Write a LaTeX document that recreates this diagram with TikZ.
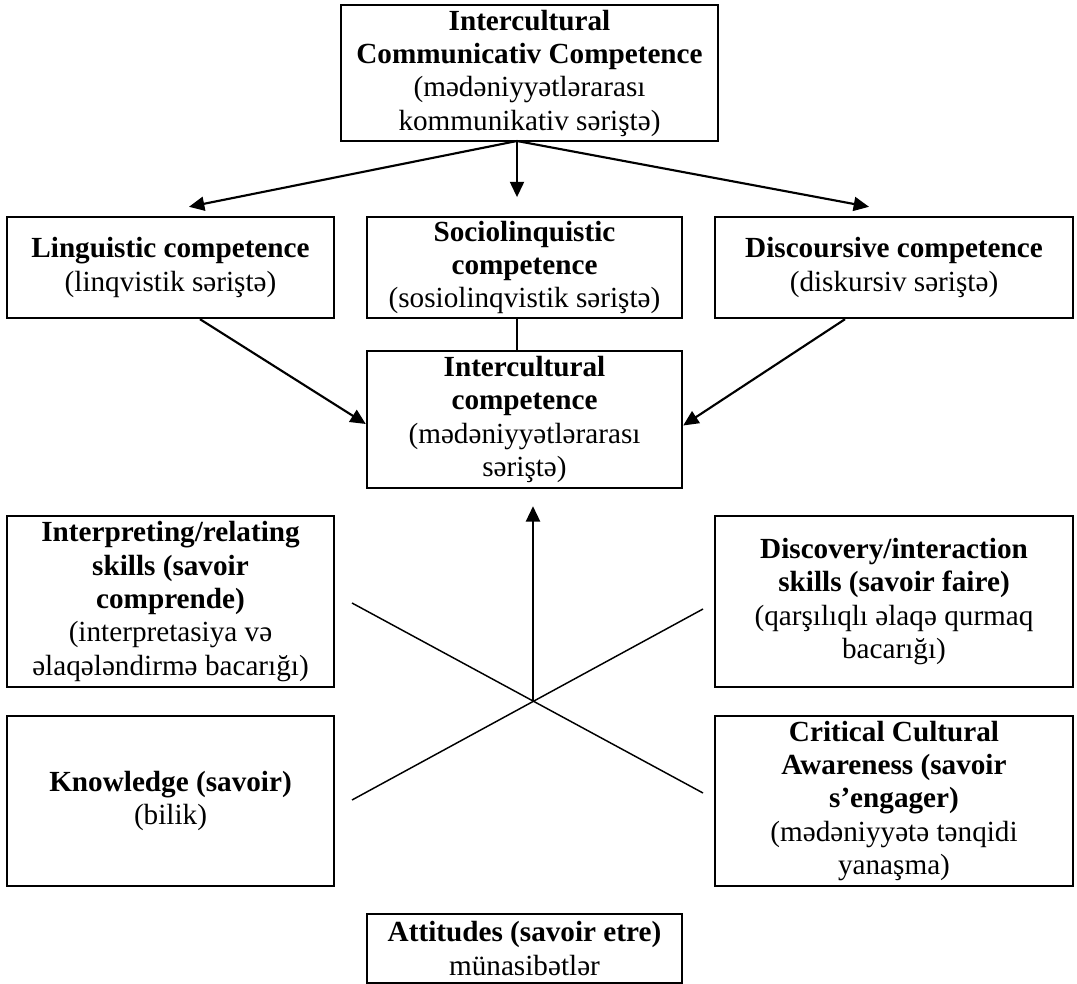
\documentclass[tikz,border=0pt]{standalone}
\usepackage{fontspec}
\setmainfont{Liberation Serif}
\usetikzlibrary{positioning, arrows.meta, calc}

\begin{document}
\begin{tikzpicture}[
      x=0.75pt, y=-0.75pt,
      box/.style={draw, line width=1.8pt, align=center, inner sep=0pt, font=\fontsize{21.9}{25}\selectfont},
      arr/.style={-{Triangle[length=11.5pt,width=10.5pt]}, line width=1.6pt},
      link/.style={line width=1.1pt}
    ]
    \useasboundingbox (0,0) rectangle (1077,984);

    \node[box, minimum width=282.75pt, minimum height=102pt] (icc) at (529.5,73)
      {\textbf{Intercultural}\\\textbf{Communicativ Competence}\\(mədəniyyətlərarası\\kommunikativ səriştə)};

    \node[box, minimum width=245.25pt, minimum height=75.75pt] (ling) at (170.5,267.5)
      {\textbf{Linguistic competence}\\(linqvistik səriştə)};
    \node[box, minimum width=236.25pt, minimum height=75.75pt] (soc) at (524.5,267.5)
      {\textbf{Sociolinquistic}\\\textbf{competence}\\(sosiolinqvistik səriştə)};
    \node[box, minimum width=268.5pt, minimum height=75.75pt] (disc) at (894,267.5)
      {\textbf{Discoursive competence}\\(diskursiv səriştə)};

    \node[box, minimum width=236.25pt, minimum height=102.75pt] (ic) at (524.5,419.5)
      {\textbf{Intercultural}\\\textbf{competence}\\(mədəniyyətlərarası\\səriştə)};

    \node[box, minimum width=245.25pt, minimum height=128.25pt] (interp) at (170.5,601.5)
      {\textbf{Interpreting/relating}\\\textbf{skills (savoir}\\\textbf{comprende)}\\(interpretasiya və\\əlaqələndirmə bacarığı)};
    \node[box, minimum width=245.25pt, minimum height=127.5pt] (know) at (170.5,801)
      {\textbf{Knowledge (savoir)}\\(bilik)};
    \node[box, minimum width=268.5pt, minimum height=128.25pt] (discov) at (894,601.5)
      {\textbf{Discovery/interaction}\\\textbf{skills (savoir faire)}\\(qarşılıqlı əlaqə qurmaq\\bacarığı)};
    \node[box, minimum width=268.5pt, minimum height=127.5pt] (crit) at (894,801)
      {\textbf{Critical Cultural}\\\textbf{Awareness (savoir}\\\textbf{s’engager)}\\(mədəniyyətə tənqidi\\yanaşma)};

    \node[box, minimum width=236.25pt, minimum height=51.75pt] (att) at (524.5,948.5)
      {\textbf{Attitudes (savoir etre)}\\münasibətlər};

    % fork under the top box, crossing point of the skills
    \coordinate (fork) at (517,141);
    \coordinate (cross) at (533,701);
    \coordinate (xa) at (352,603);
    \coordinate (xb) at (352,800);
    \coordinate (xc) at (703,609);
    \coordinate (xd) at (703,793);

    \draw[arr] (fork) -- ($(ling.north)+(18.5,-9)$);
    \draw[arr, shorten >=14pt] (fork) -- (fork |- soc.north);
    \draw[arr] (fork) -- ($(disc.north)+(-25,-9)$);

    \draw[arr] ($(ling.south)+(29.5,0)$) -- ($(ic.west)+(0,4.5)$);
    \draw[arr] ($(disc.south)+(-49,0)$) -- ($(ic.east)+(0,6)$);
    \draw[link] (fork |- soc.south) -- (fork |- ic.north);

    \draw[arr, shorten >=12.75pt] (cross) -- (cross |- ic.south);
    \draw[link] (xa) -- (xd);
    \draw[link] (xb) -- (xc);
  \end{tikzpicture}
\end{document}
